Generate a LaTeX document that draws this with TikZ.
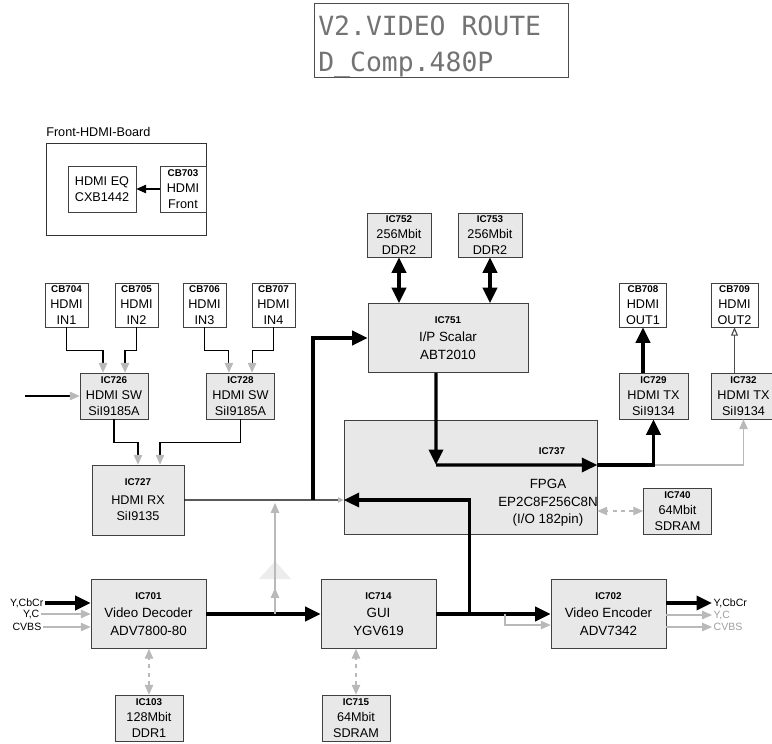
\documentclass[tikz,border=0pt]{standalone}
\usepackage{fontspec}
\setmainfont{Liberation Sans}
\newfontfamily\lcdfont{DejaVu Sans Mono}
\usetikzlibrary{arrows.meta}

\tikzset{
  chip/.style={draw=black!75, fill=black!9, align=center, inner sep=0pt,
    font=\fontsize{9}{11.5}\selectfont},
  conn/.style={draw=black!75, fill=white, align=center, inner sep=0pt,
    font=\fontsize{9}{11.5}\selectfont},
  smallbox/.style={minimum width=1.7cm, minimum height=1.15cm},
  bigbox/.style={minimum width=2.875cm, minimum height=1.725cm,
    font=\fontsize{9.5}{13}\selectfont},
  lcdtext/.style={inner sep=0pt, text=black!55, font=\lcdfont\fontsize{18.8}{20}\selectfont},
  sig/.style={inner sep=1pt, font=\fontsize{7.5}{8}\selectfont},
  bus/.style={line width=2.4pt, -{Triangle[length=11pt,width=10pt]}},
  dblbus/.style={line width=2.4pt, {Triangle[length=11pt,width=10pt]}-{Triangle[length=11pt,width=10pt]}},
  wire/.style={line width=0.8pt},
  gwire/.style={line width=0.8pt, gray!55},
  gtip/.style={-{Triangle[length=7pt,width=6pt,color=gray!55]}},
  gdbl/.style={gray!55, line width=0.8pt, dashed,
    {Triangle[length=7pt,width=6pt]}-{Triangle[length=7pt,width=6pt]}},
}
\newcommand{\icname}[1]{{\fontsize{7}{8}\selectfont\bfseries #1}}

\begin{document}
\begin{tikzpicture}[x=0.025cm, y=-0.025cm]
  \useasboundingbox (0,0) rectangle (772,744);

  % front panel display
  \node[draw=black!70, minimum width=6.35cm, minimum height=1.85cm, inner sep=0pt] (lcd) at (441,40) {};
  \node[lcdtext, anchor=base west] (lcda) at (318,35) {V2.VIDEO ROUTE};
  \node[lcdtext, anchor=base west] (lcdb) at (318,71) {D\_Comp.480P};

  % front hdmi board
  \node[draw=black!80, minimum width=4cm, minimum height=2.3cm, inner sep=0pt] (board) at (126,189) {};
  \node[anchor=base west, inner sep=0pt, font=\fontsize{9}{11}\selectfont] (boardname) at (46,136) {Front-HDMI-Board};
  \node[conn, smallbox] (hdmieq) at (102,189) {HDMI EQ\\CXB1442};
  \node[conn, minimum width=1.15cm, minimum height=1.15cm] (cb703) at (183,189) {\icname{CB703}\\HDMI\\Front};
  \draw[wire, -{Triangle[length=7pt,width=6pt]}] (cb703) -- (hdmieq);

  % hdmi inputs and switches
  \foreach \n/\x/\t in {704/66.5/IN1, 705/136.5/IN2, 706/204.5/IN3, 707/273.5/IN4} {
    \node[conn, minimum width=1.075cm, minimum height=1.1cm] (cb\n) at (\x,305) {\icname{CB\n}\\HDMI\\\t};
  }
  \node[chip, smallbox] (ic726) at (114,396) {\icname{IC726}\\HDMI SW\\SiI9185A};
  \node[chip, smallbox] (ic728) at (240.5,396) {\icname{IC728}\\HDMI SW\\SiI9185A};
  \draw[wire, gtip] (cb704.south) -- ++(0,23) -| ([xshift=-0.275cm]ic726.north);
  \draw[wire, gtip] (cb705.south) -- ++(0,23) -| ([xshift=0.275cm]ic726.north);
  \draw[wire, gtip] (cb706.south) -- ++(0,23) -| ([xshift=-0.29cm]ic728.north);
  \draw[wire, gtip] (cb707.south) -- ++(0,23) -| ([xshift=0.29cm]ic728.north);
  \coordinate (swin) at (25,396);
  \draw[wire, gtip] (swin) -- (ic726);

  \node[chip, minimum width=2.3cm, minimum height=1.75cm] (ic727) at (138,500) {\icname{IC727}\\[2pt]HDMI RX\\SiI9135};
  \draw[wire, gtip] (ic726.south) -- ++(0,23) -| (ic727.north);
  \draw[wire, gtip] (ic728.south) -- ++(0,23) -| ([xshift=0.55cm]ic727.north);

  % scaler with its memories
  \node[chip, minimum width=1.6cm, minimum height=1.1cm] (ic752) at (399,235) {\icname{IC752}\\256Mbit\\DDR2};
  \node[chip, minimum width=1.6cm, minimum height=1.1cm] (ic753) at (490,235) {\icname{IC753}\\256Mbit\\DDR2};
  \node[chip, minimum width=4cm, minimum height=1.725cm, font=\fontsize{9.5}{13}\selectfont] (ic751) at (448,338) {\icname{IC751}\\I/P Scalar\\ABT2010};
  \draw[dblbus] (ic752.south) -- (ic752.south |- ic751.north);
  \draw[dblbus] (ic753.south) -- (ic753.south |- ic751.north);

  % fpga
  \node[chip, minimum width=6.325cm, minimum height=2.85cm] (ic737) at (470.5,477) {};
  \node[inner sep=0pt, font=\fontsize{7}{8}\selectfont\bfseries] (ic737name) at (552,451) {IC737};
  \node[inner sep=0pt, align=center, font=\fontsize{9.5}{12.5}\selectfont] (ic737text) at (548,503) {FPGA\\EP2C8F256C8N\\(I/O 182pin)};
  \node[chip, smallbox] (ic740) at (677.5,511) {\icname{IC740}\\64Mbit\\SDRAM};
  \draw[gdbl] (ic740.west) -- (ic740.west -| ic737.east);

  % hdmi outputs
  \node[chip, minimum width=1.725cm, minimum height=1.15cm] (ic729) at (653.5,396) {\icname{IC729}\\HDMI TX\\SiI9134};
  \node[chip, minimum width=1.625cm, minimum height=1.15cm] (ic732) at (743.5,396) {\icname{IC732}\\HDMI TX\\SiI9134};
  \node[conn, minimum width=1.175cm, minimum height=1.1cm] (cb708) at (643,305) {\icname{CB708}\\HDMI\\OUT1};
  \node[conn, minimum width=1.175cm, minimum height=1.1cm] (cb709) at (734.5,305) {\icname{CB709}\\HDMI\\OUT2};

  \coordinate (fpgaturn) at (436,465);
  \draw[bus] ([xshift=-0.3cm]ic751.south) -- (fpgaturn);
  \draw[bus] (fpgaturn) -- ([yshift=0.3cm]ic737.east);
  \draw[gwire, gtip] (ic729.south |- fpgaturn) -| (ic732.south);
  \draw[bus] ([yshift=0.3cm]ic737.east) -| (ic729.south);
  \draw[bus] (cb708.south |- ic729.north) -- (cb708.south);
  \draw[wire, black!70, -{Triangle[open,length=6pt,width=5pt]}] (cb709.south |- ic732.north) -- (cb709.south);

  % video decoder, gui and encoder
  \node[chip, bigbox] (ic701) at (148.5,614) {\icname{IC701}\\Video Decoder\\ADV7800-80};
  \node[chip, bigbox] (ic714) at (378.5,614) {\icname{IC714}\\GUI\\YGV619};
  \node[chip, bigbox] (ic702) at (608.5,614) {\icname{IC702}\\Video Encoder\\ADV7342};
  \node[chip, smallbox] (ic103) at (149,718) {\icname{IC103}\\128Mbit\\DDR1};
  \node[chip, smallbox] (ic715) at (356,718) {\icname{IC715}\\64Mbit\\SDRAM};
  \draw[gdbl] (ic103.north) -- (ic103.north |- ic701.south);
  \draw[gdbl] (ic715.north) -- (ic715.north |- ic714.south);

  \node[sig, anchor=east] (vin1) at (45,603) {Y,CbCr};
  \node[sig, anchor=east] (vin2) at (41,614) {Y,C};
  \node[sig, anchor=east] (vin3) at (43,627) {CVBS};
  \draw[bus] (vin1) -- (vin1 -| ic701.west);
  \draw[gwire, gtip] (vin2) -- (vin2 -| ic701.west);
  \draw[gwire, gtip] (vin3) -- (vin3 -| ic701.west);

  \node[sig, anchor=west] (vout1) at (712,603) {Y,CbCr};
  \node[sig, anchor=west, text=gray!75] (vout2) at (712,615) {Y,C};
  \node[sig, anchor=west, text=gray!75] (vout3) at (712,627) {CVBS};
  \draw[bus] (vout1 -| ic702.east) -- (vout1);
  \draw[gwire, gtip] (vout2 -| ic702.east) -- (vout2);
  \draw[gwire, gtip] (vout3 -| ic702.east) -- (vout3);

  % main video path
  \draw[bus] (ic701) -- (ic714);
  \draw[bus] (ic714) -- (ic702);
  \draw[bus] (ic714.east) -- ++(33,0) |- ([yshift=-0.575cm]ic737.west);
  \coordinate (encbranch) at (505,614);
  \draw[gwire, gtip] (encbranch) |- ([yshift=-0.275cm]ic702.west);

  % hdmi rx and feed to the scaler
  \draw[wire, -{Triangle[length=4pt,width=4pt,color=gray!55]}] (ic727.east) -- ([yshift=-0.575cm]ic737.west);
  \coordinate (busjoin) at (313,500);
  \draw[bus] (busjoin) |- (ic751.west);

  \coordinate (tapfoot) at (275,614);
  \coordinate (taptop) at (275,503);
  \fill[gray!15] (259,579) -- (275,561) -- (291,579) -- cycle;
  \draw[gwire, gtip] (tapfoot) -- (taptop);
  \draw[gwire, gtip] (tapfoot) -- ++(0,-26);
\end{tikzpicture}
\end{document}
